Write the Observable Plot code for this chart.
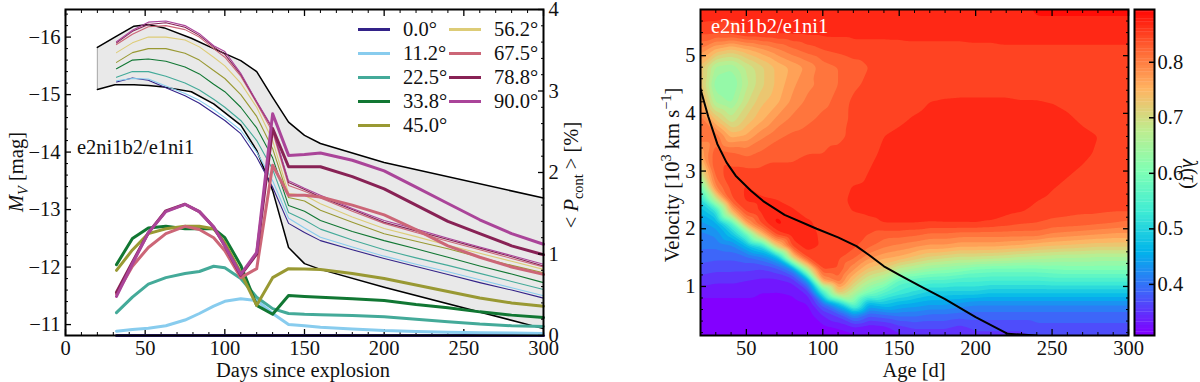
<!DOCTYPE html>
<html><head><meta charset="utf-8">
<script src="https://cdn.jsdelivr.net/npm/d3@7"></script>
<script src="https://cdn.jsdelivr.net/npm/@observablehq/plot@0.6"></script>
<style>
html,body{margin:0;padding:0;background:#fff}
#c{position:relative;width:1200px;height:382px;overflow:hidden;font-family:"Liberation Serif",serif;color:#111}
#c svg{position:absolute;left:0;top:0;max-width:none;background:transparent}
.t{position:absolute;white-space:nowrap;line-height:1;font-size:20.5px}
.r{transform:translate(-50%,-50%) rotate(-90deg);transform-origin:center}
.rc{transform:translate(-50%,-50%) rotate(90deg);transform-origin:center}
.cx{transform:translate(-50%,-50%)}
.sw{position:absolute;height:3px;width:32px}
sub,sup{font-size:70%;line-height:0}
</style></head><body><div id="c"></div>
<script>
// ---------- left panel data ----------
const days=[32,42,52,63,75,84,93,100,110,120,130,140,150,160,180,200,220,240,260,280,300];
const angles=["0.0°","11.2°","22.5°","33.8°","45.0°","56.2°","67.5°","78.8°","90.0°"];
const angleColors=["#332288","#88CCEE","#44AA99","#117733","#999933","#DDCC77","#CC6677","#882255","#AA4499"];
const mv0 =[-15.22,-15.29,-15.25,-15.12,-14.98,-14.85,-14.68,-14.55,-14.32,-13.91,-13.39,-12.76,-12.6,-12.46,-12.3,-12.15,-12.01,-11.87,-11.73,-11.6,-11.46];
const mv11=[-15.24,-15.28,-15.27,-15.15,-15.02,-14.9,-14.74,-14.6,-14.38,-14.0,-13.5,-12.85,-12.68,-12.52,-12.35,-12.19,-12.05,-11.92,-11.78,-11.64,-11.5];
const mv22=[-15.3,-15.4,-15.4,-15.32,-15.2,-15.08,-14.92,-14.78,-14.55,-14.2,-13.7,-12.95,-12.82,-12.66,-12.47,-12.3,-12.16,-12.03,-11.89,-11.75,-11.61];
const mv33=[-15.45,-15.6,-15.62,-15.58,-15.48,-15.36,-15.18,-15.05,-14.78,-14.42,-13.9,-13.07,-12.97,-12.81,-12.62,-12.46,-12.32,-12.17,-12.02,-11.88,-11.73];
const mv45=[-15.56,-15.73,-15.8,-15.8,-15.72,-15.6,-15.42,-15.28,-15.0,-14.62,-14.06,-13.21,-13.15,-12.99,-12.78,-12.58,-12.45,-12.32,-12.17,-12.03,-11.9];
const mv56=[-15.73,-15.9,-16.0,-16.0,-15.95,-15.83,-15.65,-15.5,-15.2,-14.78,-14.2,-13.28,-13.25,-13.1,-12.87,-12.67,-12.53,-12.38,-12.24,-12.1,-11.96];
const mv67=[-15.87,-16.05,-16.18,-16.2,-16.13,-16.0,-15.8,-15.65,-15.32,-14.85,-14.35,-13.42,-13.32,-13.2,-12.97,-12.76,-12.6,-12.45,-12.3,-12.15,-12.0];
const mv78=[-15.9,-16.1,-16.22,-16.25,-16.17,-16.03,-15.83,-15.7,-15.35,-14.87,-14.4,-13.47,-13.35,-13.22,-13.0,-12.78,-12.63,-12.48,-12.33,-12.18,-12.02];
const mv90=[-15.92,-16.12,-16.26,-16.28,-16.2,-16.06,-15.85,-15.75,-15.37,-14.88,-14.42,-13.5,-13.37,-13.25,-13.02,-12.81,-12.66,-12.5,-12.35,-12.2,-12.05];
const mvSeries=[mv0,mv11,mv22,mv33,mv45,mv56,mv67,mv78,mv90];
const pol0 =[0,0,0,0,0,0,0,0,0,0,0,0,0,0,0,0,0,0,0,0,0];
const pol11=[.053,.075,.09,.12,.19,.27,.36,.42,.45,.43,.27,.135,.12,.1,.08,.06,.05,.04,.035,.03,.025];
const pol22=[.28,.47,.63,.71,.76,.785,.85,.83,.70,.47,.33,.27,.26,.255,.245,.23,.2,.17,.14,.12,.11];
const pol33=[.87,1.19,1.32,1.34,1.31,1.31,1.31,1.2,.86,.37,.26,.49,.48,.47,.45,.43,.38,.34,.29,.25,.22];
const pol45=[.80,1.05,1.25,1.31,1.34,1.34,1.31,1.14,.77,.37,.71,.82,.815,.81,.76,.70,.62,.54,.46,.40,.36];
const pol67=[.51,.85,1.08,1.25,1.34,1.30,1.2,1.04,.71,.82,2.09,1.72,1.72,1.7,1.6,1.48,1.3,1.1,.96,.84,.75];
const pol78=[.53,.9,1.26,1.53,1.61,1.52,1.33,1.10,.74,1.0,2.54,2.07,2.07,2.07,1.95,1.8,1.6,1.4,1.25,1.1,.99];
const pol90=[.48,.88,1.26,1.52,1.61,1.52,1.33,1.10,.75,1.02,2.72,2.21,2.22,2.24,2.15,2.02,1.82,1.62,1.42,1.25,1.12];
const polSeries=[[pol0,0],[pol11,1],[pol22,2],[pol33,3],[pol45,4],[pol67,6],[pol78,7],[pol90,8]];
const envDays=[20,31,43,52,62,79,93,110,120,130,140,150,160,200,300];
const envUpper=[-15.82,-16.0,-16.19,-16.22,-16.16,-15.98,-15.8,-15.59,-15.40,-14.95,-14.52,-14.29,-14.15,-13.82,-13.2];
const envLower=[-15.09,-15.17,-15.17,-15.16,-15.13,-15.05,-14.84,-14.47,-14.03,-13.33,-12.34,-12.06,-11.96,-11.65,-10.93];

// ---------- right panel data ----------
const ages=[20,30,40,50,60,70,80,90,100,110,120,130,140,150,160,170,180,190,200,210,220,230,240,250,260,270,280,290,300];
const vels=[.15,.3,.5,.7,.9,1.1,1.3,1.5,1.7,1.9,2.1,2.3,2.5,2.7,3.0,3.3,3.6,3.9,4.2,4.5,4.8,5.1,5.4,5.8];
// one column of gamma per age, bottom to top
const g020=[.31,.31,.315,.32,.33,.355,.375,.395,.41,.42,.44,.47,.51,.58,.70,.77,.82,.82,.78,.74,.74,.80,.85,.885];
const g030=[.31,.31,.31,.32,.33,.35,.37,.39,.41,.43,.46,.52,.68,.80,.84,.84,.82,.74,.66,.63,.66,.76,.85,.88];
const g040=[.31,.31,.31,.32,.33,.35,.37,.39,.42,.48,.56,.75,.84,.85,.85,.83,.76,.69,.64,.62,.65,.74,.855,.875];
const g050=[.31,.31,.31,.32,.33,.345,.37,.40,.47,.58,.78,.85,.868,.868,.85,.82,.77,.73,.70,.68,.69,.76,.87,.875];
const g060=[.31,.31,.31,.32,.325,.34,.365,.42,.52,.75,.85,.87,.87,.855,.85,.83,.80,.76,.74,.72,.72,.78,.87,.875];
const g070=[.31,.31,.31,.315,.325,.34,.38,.47,.73,.85,.89,.88,.865,.855,.85,.84,.82,.79,.76,.75,.75,.80,.87,.875];
const g080=[.31,.31,.31,.315,.33,.35,.43,.72,.85,.875,.875,.87,.855,.85,.85,.84,.83,.81,.79,.78,.77,.82,.87,.875];
const g090=[.31,.31,.315,.325,.35,.44,.68,.85,.875,.875,.87,.855,.85,.85,.85,.845,.835,.82,.81,.80,.79,.835,.87,.875];
const g100=[.31,.32,.345,.40,.55,.78,.85,.862,.862,.86,.855,.85,.85,.85,.85,.845,.84,.83,.82,.81,.815,.845,.87,.875];
const g110=[.31,.33,.37,.48,.74,.82,.845,.85,.85,.85,.85,.855,.858,.855,.85,.85,.84,.835,.83,.825,.825,.85,.87,.875];
const g120=[.32,.345,.43,.60,.68,.74,.79,.83,.85,.85,.85,.866,.87,.867,.855,.855,.85,.85,.85,.84,.835,.857,.87,.875];
const g130=[.32,.335,.39,.47,.61,.68,.74,.79,.83,.845,.858,.87,.87,.87,.865,.855,.855,.855,.855,.85,.845,.857,.87,.875];
const g140=[.33,.34,.40,.49,.57,.65,.72,.77,.81,.835,.866,.872,.875,.875,.875,.872,.865,.858,.855,.855,.855,.857,.87,.875];
const g150=[.34,.36,.41,.47,.54,.58,.68,.76,.80,.835,.866,.875,.875,.875,.875,.875,.87,.861,.855,.855,.855,.858,.87,.875];
const g160=[.35,.37,.41,.46,.52,.57,.66,.74,.79,.83,.866,.875,.875,.875,.875,.875,.875,.867,.858,.855,.855,.858,.872,.875];
const g170=[.35,.37,.40,.45,.50,.56,.64,.72,.78,.82,.864,.875,.875,.875,.875,.875,.875,.872,.865,.856,.855,.858,.872,.875];
const g180=[.35,.37,.40,.45,.50,.56,.63,.71,.78,.82,.865,.875,.875,.875,.875,.875,.875,.875,.867,.856,.855,.858,.872,.875];
const g190=[.35,.36,.395,.44,.50,.55,.62,.70,.77,.815,.865,.875,.875,.875,.875,.875,.875,.875,.868,.856,.855,.858,.872,.875];
const g200=[.36,.37,.395,.43,.50,.55,.605,.70,.77,.815,.866,.875,.875,.875,.875,.875,.875,.875,.868,.856,.855,.86,.872,.875];
const g210=[.36,.37,.395,.43,.49,.545,.60,.695,.77,.815,.862,.875,.875,.875,.875,.875,.875,.875,.868,.856,.855,.86,.872,.875];
const g220=[.36,.37,.395,.43,.49,.545,.60,.69,.765,.815,.855,.87,.875,.875,.875,.875,.875,.875,.868,.856,.855,.862,.872,.875];
const g230=[.36,.37,.395,.43,.49,.545,.60,.68,.76,.815,.848,.866,.875,.875,.875,.875,.875,.875,.866,.856,.855,.862,.872,.875];
const g240=[.37,.38,.395,.43,.49,.545,.60,.675,.75,.815,.845,.858,.866,.875,.875,.875,.875,.875,.866,.856,.855,.862,.872,.89];
const g250=[.37,.38,.395,.43,.49,.55,.605,.67,.745,.80,.84,.852,.86,.866,.875,.875,.875,.875,.864,.856,.855,.862,.872,.89];
const g260=[.37,.38,.395,.43,.49,.55,.61,.665,.74,.795,.838,.85,.855,.86,.868,.875,.875,.87,.858,.855,.855,.862,.872,.89];
const g270=[.37,.38,.395,.43,.49,.55,.61,.665,.735,.79,.835,.848,.855,.855,.862,.87,.872,.86,.855,.855,.855,.862,.872,.89];
const g280=[.37,.38,.395,.43,.49,.55,.61,.66,.73,.785,.83,.848,.855,.855,.858,.862,.865,.856,.855,.855,.855,.862,.872,.89];
const g290=[.375,.38,.395,.43,.49,.55,.61,.66,.73,.78,.826,.846,.855,.855,.855,.855,.855,.855,.855,.855,.855,.862,.872,.89];
const g300=[.375,.38,.395,.43,.49,.55,.61,.66,.73,.78,.82,.846,.855,.855,.855,.855,.855,.855,.855,.855,.855,.862,.872,.89];
const gammaColumns=[g020,g030,g040,g050,g060,g070,g080,g090,g100,g110,g120,g130,g140,g150,g160,g170,g180,g190,g200,g210,g220,g230,g240,g250,g260,g270,g280,g290,g300];
const photoAge=[20,25,31,37,43,53,61,75,96,110,122,130,140,150,164,180,200,221,240];
const photoVel=[4.42,3.95,3.47,3.15,2.92,2.66,2.48,2.24,2.0,1.85,1.70,1.55,1.35,1.2,1.0,.78,.47,.18,.15];
const colorDomain=[.308,.381,.455,.528,.601,.675,.748,.822,.895];
const colorRange=["#8000ff","#4062fa","#00b4eb","#40ecd4","#80ffb4","#c0ec8e","#ffb462","#ff6232","#ff0000"];
const levels=d3.range(.305,.9,.02);

// ---------- build ----------
const font='"Liberation Serif",serif', fs=20.5;
const base={width:1200,height:382,marginTop:9,marginBottom:47,style:{fontFamily:font,fontSize:fs+"px",color:"#111",background:"transparent",overflow:"visible"}};
const label=d=>String(d).replace("-","−");
function axX(anchor,major,minor,labels){
  return [Plot.axisX(major,{anchor,tickSize:-6,tickPadding:6+5,strokeWidth:1.3,stroke:"#000",label:null,fill:"#111",tickFormat:label,...(labels?{}:{text:null})}),
          Plot.axisX(minor,{anchor,tickSize:-3,strokeWidth:1,stroke:"#000",label:null,text:null})];
}
function axY(anchor,major,minor,labels){
  return [Plot.axisY(major,{anchor,tickSize:-6,tickPadding:6+5,strokeWidth:1.3,stroke:"#000",label:null,fill:"#111",tickFormat:label,...(labels?{}:{text:null})}),
          Plot.axisY(minor,{anchor,tickSize:-3,strokeWidth:1,stroke:"#000",label:null,text:null})];
}
const rows=(ys,i)=>days.map((d,j)=>({d,y:ys[j],i}));
const envelope=envDays.map((d,j)=>({d,u:envUpper[j],l:envLower[j]}));
const xTick=d3.range(0,301,50), xMinor=d3.range(0,301,10).filter(d=>d%50), mvMajor=d3.range(-16,-10), mvMinor=d3.range(-16.4,-10.8,.2).map(d=>+d.toFixed(1)).filter(d=>d%1);
const c=document.getElementById("c");
const left=Plot.plot({...base,marginLeft:65,marginRight:657,
  x:{domain:[0,300],label:null},y:{domain:[-10.81,-16.48],label:null},
  marks:[
    Plot.areaY(envelope,{x:"d",y1:"l",y2:"u",fill:"#e9e9e9"}),
    Plot.ruleX(envelope.slice(0,1),{x:"d",y1:"l",y2:"u",stroke:"#aaa",strokeWidth:1}),
    Plot.line(envelope,{x:"d",y:"u",stroke:"#000",strokeWidth:1.5}),
    Plot.line(envelope,{x:"d",y:"l",stroke:"#000",strokeWidth:1.5}),
    ...mvSeries.map((s,i)=>Plot.line(rows(s,i),{x:"d",y:"y",stroke:angleColors[i],strokeWidth:1.1})),
    ...axX("bottom",xTick,xMinor,true),...axX("top",xTick,xMinor,false),
    ...axY("left",mvMajor,mvMinor,true)
  ]});
c.appendChild(left);
const polMajor=[0,1,2,3,4], polMinor=d3.range(0,4.01,.2).map(d=>+d.toFixed(1)).filter(d=>d%1);
const pol=Plot.plot({...base,marginLeft:65,marginRight:657,
  x:{domain:[0,300],axis:null},y:{domain:[0,4],label:null},
  marks:[
    ...polSeries.map(([s,i])=>Plot.line(rows(s,i),{x:"d",y:"y",stroke:angleColors[i],strokeWidth:3})),
    ...axY("right",polMajor,polMinor,true),
    Plot.frame({stroke:"#000",strokeWidth:2})
  ]});
c.appendChild(pol);
const grid=ages.flatMap((a,i)=>vels.map((v,j)=>({a,v,g:gammaColumns[i][j]})));
const photo=photoAge.map((a,i)=>({a,v:photoVel[i]}));
const ageMajor=[50,100,150,200,250,300], ageMinor=d3.range(20,301,10).filter(d=>d%50);
const velMajor=[1,2,3,4,5], velMinor=d3.range(.2,5.81,.2).map(d=>+d.toFixed(1)).filter(d=>d%1);
const color={type:"linear",domain:colorDomain,range:colorRange};
const heat=Plot.plot({...base,marginLeft:700,marginRight:72,
  x:{domain:[20,300],label:null},y:{domain:[.15,5.8],label:null},color,
  marks:[
    Plot.contour(grid,{x:"a",y:"v",fill:"g",thresholds:levels,interpolate:"barycentric",pixelSize:1,smooth:true,blur:1.5}),
    Plot.line(photo,{x:"a",y:"v",stroke:"#000",strokeWidth:2,clip:true}),
    ...axX("bottom",ageMajor,ageMinor,true),...axX("top",ageMajor,ageMinor,false),
    ...axY("left",velMajor,velMinor,true),...axY("right",velMajor,velMinor,false),
    Plot.frame({stroke:"#000",strokeWidth:2})
  ]});
c.appendChild(heat);
const cbTicks=[.4,.5,.6,.7,.8];
const bar=Plot.plot({...base,marginLeft:1134,marginRight:46,
  x:{domain:[0,1],axis:null},y:{domain:[.308,.895],label:null},color,
  marks:[
    Plot.rectY(d3.range(.308,.895,.006),{x1:0,x2:1,y1:d=>d,y2:d=>d+.0065,fill:d=>d,clip:true}),
    Plot.axisY(cbTicks,{anchor:"right",tickSize:-6,tickPadding:6+3,strokeWidth:1.5,stroke:"#000",label:null,fill:"#111",tickFormat:d=>d.toFixed(1)}),
    Plot.frame({stroke:"#000",strokeWidth:2})
  ]});
c.appendChild(bar);
// text and legend
function T(html,x,y,cls,style){const e=document.createElement("div");e.className="t "+(cls||"");e.innerHTML=html;e.style.left=x+"px";e.style.top=y+"px";if(style)e.style.cssText+=style;c.appendChild(e);}
T('<i>M<sub>V</sub></i> [mag]',16,172,"r");
T('Days since explosion',303,370,"cx");
T('&lt; <i>P</i><sub>cont</sub> &gt; [%]',571,175,"r");
T('e2ni1b2/e1ni1',77,137,"");
T('Velocity [10<sup>3</sup> km s<sup>−1</sup>]',672,175,"r");
T('Age [d]',914,370,"cx");
T('e2ni1b2/e1ni1',711,16,"","color:#fff");
T('<i>λ</i>(<i>τ</i>)',1190,174,"rc");
angles.forEach((a,i)=>{
  const col=i<5?0:1, row=i<5?i:i-5, x=col?449:358, y=29+row*24;
  const s=document.createElement("div");s.className="sw";s.style.left=x+"px";s.style.top=(y-1.5)+"px";s.style.background=angleColors[i];c.appendChild(s);
  T(a,x+45,y-10,"");
});
</script></body></html>
